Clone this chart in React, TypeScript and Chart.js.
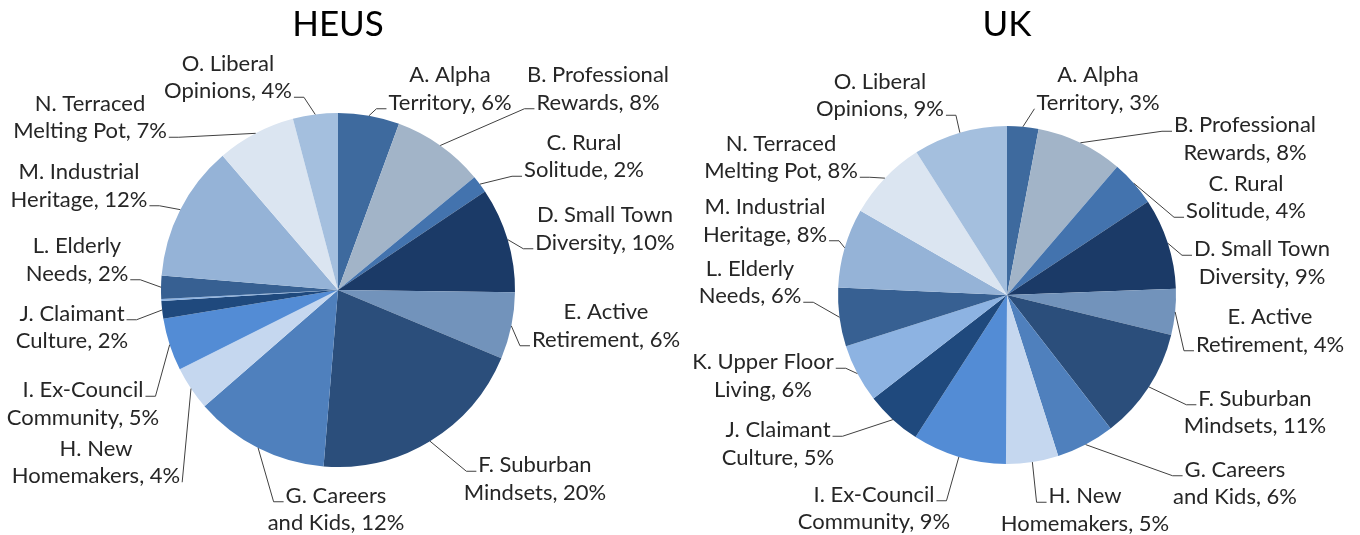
import React, { useEffect, useRef } from "react";
import { Chart, registerables } from "chart.js";

Chart.register(...registerables);

// ---------- data ----------
const categories = [
  "A. Alpha Territory",
  "B. Professional Rewards",
  "C. Rural Solitude",
  "D. Small Town Diversity",
  "E. Active Retirement",
  "F. Suburban Mindsets",
  "G. Careers and Kids",
  "H. New Homemakers",
  "I. Ex-Council Community",
  "J. Claimant Culture",
  "K. Upper Floor Living",
  "L. Elderly Needs",
  "M. Industrial Heritage",
  "N. Terraced Melting Pot",
  "O. Liberal Opinions",
];

const heusValues = [5.6, 8.4, 1.6, 9.6, 6.1, 20.0, 12.3, 4.0, 4.8, 1.6, 0.2, 2.1, 12.4, 7.2, 4.1];
const ukValues = [3.0, 8.3, 4.4, 8.7, 4.4, 10.7, 5.6, 5.0, 9.0, 5.4, 5.6, 5.6, 7.6, 7.7, 9.0];

const sliceColors = [
  "#3E6A9E",
  "#A2B4C8",
  "#4373AE",
  "#1B3A67",
  "#7293BB",
  "#2B4E7B",
  "#4F80BD",
  "#C5D7EF",
  "#538CD5",
  "#1F497D",
  "#8DB3E2",
  "#376092",
  "#95B3D7",
  "#DBE5F1",
  "#A4BFDE",
];

// words in the first line of each label
const firstLineWords = [2, 2, 2, 3, 2, 2, 2, 2, 2, 2, 3, 2, 2, 2, 2];

// ---------- label layout (offsets of label centre from pie centre) ----------
type LabelPos = { dx: number; dy: number; side: "L" | "R"; line: 0 | 1; stub?: number } | null;

const heusLayout: LabelPos[] = [
  { dx: 112, dy: -201, side: "L", line: 1 },
  { dx: 260, dy: -201, side: "L", line: 1 },
  { dx: 246, dy: -133.5, side: "L", line: 1 },
  { dx: 267, dy: -61, side: "L", line: 1 },
  { dx: 268, dy: 36, side: "L", line: 1 },
  { dx: 197, dy: 189, side: "L", line: 0 },
  { dx: -2, dy: 219.5, side: "L", line: 0 },
  { dx: -242, dy: 172.5, side: "R", line: 1, stub: 0 },
  { dx: -255, dy: 114, side: "R", line: 0 },
  { dx: -266, dy: 37.5, side: "R", line: 0 },
  null,
  { dx: -261, dy: -30, side: "R", line: 1 },
  { dx: -259, dy: -104, side: "R", line: 1 },
  { dx: -248, dy: -172.5, side: "R", line: 1 },
  { dx: -110, dy: -212.5, side: "R", line: 1 },
];

const ukLayout: LabelPos[] = [
  { dx: 91, dy: -206, side: "L", line: 1, stub: 0 },
  { dx: 238, dy: -156, side: "L", line: 0 },
  { dx: 239, dy: -97.5, side: "L", line: 1 },
  { dx: 255, dy: -32, side: "L", line: 0 },
  { dx: 263, dy: 36, side: "L", line: 1 },
  { dx: 248, dy: 117.5, side: "L", line: 0 },
  { dx: 228, dy: 188.5, side: "L", line: 0 },
  { dx: 78, dy: 215, side: "L", line: 0 },
  { dx: -133, dy: 213.5, side: "R", line: 0 },
  { dx: -229, dy: 149, side: "R", line: 0 },
  { dx: -244, dy: 81, side: "R", line: 0 },
  { dx: -257, dy: -12.5, side: "R", line: 1 },
  { dx: -242, dy: -74, side: "R", line: 1 },
  { dx: -226, dy: -137.5, side: "R", line: 1 },
  { dx: -127, dy: -199.5, side: "R", line: 1 },
];

const FONT_FAMILY = "Lato, 'Open Sans', sans-serif";
const LABEL_SIZE = 22;
const LINE_H = 27.5;
const TITLE_SIZE = 35;

function labelLines(i: number, values: number[]): [string, string] {
  const total = values.reduce((a, b) => a + b, 0);
  const pct = Math.round((values[i] / total) * 100);
  const words = categories[i].split(" ");
  const n = firstLineWords[i];
  return [words.slice(0, n).join(" "), words.slice(n).join(" ") + ", " + pct + "%"];
}

function makeLabelPlugin(title: string, values: number[], layout: LabelPos[]) {
  return {
    id: "outsideLabels",
    afterDraw(chart: any) {
      const ctx = chart.ctx as CanvasRenderingContext2D;
      const meta = chart.getDatasetMeta(0);
      const area = chart.chartArea;
      const total = values.reduce((a, b) => a + b, 0);
      ctx.save();
      // title
      ctx.font = `${TITLE_SIZE}px ${FONT_FAMILY}`;
      ctx.fillStyle = "#000000";
      ctx.textAlign = "center";
      ctx.textBaseline = "middle";
      ctx.fillText(title, (area.left + area.right) / 2, 25);

      ctx.font = `${LABEL_SIZE}px ${FONT_FAMILY}`;
      meta.data.forEach((el: any, i: number) => {
        const pos = layout[i];
        if (!pos) return;
        const pct = Math.round((values[i] / total) * 100);
        if (pct === 0) return;
        const p = el.getProps(["x", "y", "startAngle", "endAngle", "outerRadius"], true);
        const mid = (p.startAngle + p.endAngle) / 2;
        const ax = p.x + Math.cos(mid) * p.outerRadius;
        const ay = p.y + Math.sin(mid) * p.outerRadius;
        const cx = p.x + pos.dx;
        const cy = p.y + pos.dy;
        const lines = labelLines(i, values);
        const lineYs = [cy - LINE_H / 2, cy + LINE_H / 2];

        // leader line
        const w = ctx.measureText(lines[pos.line]).width;
        const ly = lineYs[pos.line] + 6;
        const stub = pos.stub ?? 10;
        const edgeX = pos.side === "L" ? cx - w / 2 - 2 : cx + w / 2 + 2;
        const kneeX = pos.side === "L" ? edgeX - stub : edgeX + stub;
        ctx.strokeStyle = "#404040";
        ctx.lineWidth = 1;
        ctx.beginPath();
        ctx.moveTo(ax, ay);
        ctx.lineTo(kneeX, ly);
        ctx.lineTo(edgeX, ly);
        ctx.stroke();

        // text
        ctx.fillStyle = "#262626";
        ctx.textAlign = "center";
        ctx.textBaseline = "middle";
        ctx.fillText(lines[0], cx, lineYs[0]);
        ctx.fillText(lines[1], cx, lineYs[1]);
      });
      ctx.restore();
    },
  };
}

function PieChart(props: {
  title: string;
  values: number[];
  layout: LabelPos[];
  left: number;
  width: number;
  padding: { left: number; right: number; top: number; bottom: number };
}) {
  const ref = useRef<HTMLCanvasElement | null>(null);
  useEffect(() => {
    if (!ref.current) return;
    const chart = new Chart(ref.current, {
      type: "pie",
      data: {
        labels: categories,
        datasets: [
          {
            data: props.values,
            backgroundColor: sliceColors,
            borderWidth: 0,
          },
        ],
      },
      options: {
        responsive: false,
        animation: false,
        layout: { padding: props.padding },
        plugins: {
          legend: { display: false },
          tooltip: { enabled: false },
        },
      },
      plugins: [makeLabelPlugin(props.title, props.values, props.layout)],
    });
    return () => chart.destroy();
  }, []);
  return (
    <canvas
      ref={ref}
      width={props.width}
      height={535}
      style={{ position: "absolute", left: props.left, top: 0, width: props.width, height: 535 }}
    />
  );
}

export default function App() {
  return (
    <div
      style={{
        position: "fixed",
        left: 0,
        top: 0,
        width: 1360,
        height: 535,
        background: "#ffffff",
        overflow: "hidden",
      }}
    >
      <PieChart
        title="HEUS"
        values={heusValues}
        layout={heusLayout}
        left={0}
        width={710}
        padding={{ left: 161, right: 195, top: 113, bottom: 68 }}
      />
      <PieChart
        title="UK"
        values={ukValues}
        layout={ukLayout}
        left={680}
        width={680}
        padding={{ left: 158, right: 184, top: 126, bottom: 71 }}
      />
    </div>
  );
}
